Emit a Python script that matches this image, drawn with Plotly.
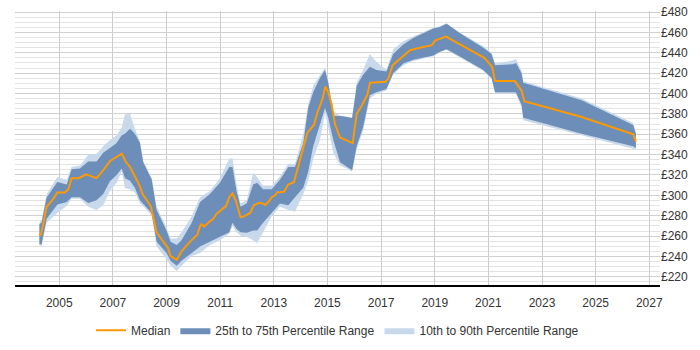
import plotly.graph_objects as go

# ---- Data (decimal years) ----
median_x = [2004.26, 2004.31, 2004.41, 2004.53, 2004.78, 2004.93, 2005.21, 2005.34, 2005.46, 2005.73,
            2006.0, 2006.39, 2006.58, 2006.89, 2007.08, 2007.33, 2007.49, 2007.64, 2007.82, 2007.98,
            2008.11, 2008.41, 2008.63, 2008.94, 2009.06, 2009.15, 2009.38, 2009.56, 2009.85, 2010.15,
            2010.25, 2010.31, 2010.4, 2010.56, 2010.74, 2010.87, 2011.22, 2011.34, 2011.46, 2011.59,
            2011.76, 2011.89, 2012.11, 2012.26, 2012.46, 2012.61, 2012.67, 2012.83, 2012.92, 2013.04,
            2013.13, 2013.38, 2013.54, 2013.75, 2014.04, 2014.25, 2014.5, 2014.62, 2014.82, 2014.92,
            2015.03, 2015.16, 2015.28, 2015.47, 2015.94, 2016.09, 2016.28, 2016.48, 2016.59, 2017.17,
            2017.27, 2017.43, 2017.71, 2018.08, 2018.45, 2018.9, 2019.01, 2019.42, 2020.85, 2021.14,
            2021.25, 2021.99, 2022.24, 2022.34, 2024.48, 2026.4, 2026.5]
median = [262.3, 260.7, 273, 288.8, 296.6, 302.9, 302.9, 306, 316.9, 316.9,
          320.7, 316.9, 322.5, 333.5, 336.9, 341, 332.6, 327.9, 318.5, 310.6,
          301.3, 289.5, 263.8, 252.9, 248.2, 240.4, 236.6, 245, 253.9, 261.3,
          270, 271.7, 269.4, 273.2, 276.9, 282, 289.5, 298.2, 301.9, 294.4,
          278.5, 279.4, 282.5, 290.4, 292.6, 291.9, 290.4, 294.4, 298.2, 299.8,
          302.9, 303.5, 310.6, 312.9, 341.9, 361.3, 369.4, 380.9, 395, 406.9,
          401.3, 388.8, 370, 356.9, 351.3, 380, 388.2, 398.2, 410.6, 411.6,
          414.4, 427.8, 434.1, 442.5, 445, 447.5, 451.9, 455.9, 435, 426.3,
          412.2, 412.2, 402.9, 392.5, 376.9, 360, 352.8]

band_x = [2004.26, 2004.34, 2004.53, 2004.93, 2005.28, 2005.46, 2005.77, 2006.08, 2006.39, 2006.64,
          2006.89, 2007.14, 2007.33, 2007.45, 2007.64, 2007.82, 2008.01, 2008.13, 2008.45, 2008.63,
          2009.0, 2009.15, 2009.38, 2009.56, 2009.94, 2010.25, 2010.62, 2010.99, 2011.34, 2011.46,
          2011.61, 2011.76, 2011.99, 2012.23, 2012.38, 2012.6, 2012.92, 2013.23, 2013.54, 2013.79,
          2014.1, 2014.28, 2014.47, 2014.72, 2014.91, 2015.03, 2015.22, 2015.47, 2015.72, 2015.92,
          2016.09, 2016.33, 2016.58, 2016.83, 2017.2, 2017.45, 2017.83, 2018.2, 2018.95, 2019.19,
          2019.44, 2019.94, 2020.81, 2021.12, 2021.25, 2021.93, 2022.03, 2022.24, 2022.3, 2024.48,
          2026.4, 2026.5]
p10 = [251, 250, 273, 283, 289.5, 296.6, 296.6, 288.8, 285.7, 290.4,
       304.4, 312.3, 323.1, 306.9, 306, 302.9, 291.9, 289.5, 279.4, 249.7,
       237.3, 231, 225.7, 231, 240.4, 243.5, 251.3, 256, 262.2, 270,
       263.8, 260.7, 259.1, 256, 252.9, 263.8, 279.4, 288.8, 285.7, 284,
       301.3, 313.8, 335.7, 354.4, 380.9, 366.9, 341.9, 329.4, 326.3, 323.1,
       345, 363.8, 395, 399.7, 402.9, 418.4, 427.8, 432, 436.5, 440.5,
       443, 435.5, 422, 414.5, 400.5, 400.5, 400, 386, 373.8, 359.1,
       345.7, 345]
p25 = [252, 252, 277, 291, 293.5, 298.2, 298.2, 292.6, 295.1, 301.3,
       313.8, 320, 326.3, 316.9, 314.4, 307.5, 295.1, 291.9, 282.5, 254.4,
       243.5, 235.7, 231, 235.7, 243.5, 249.7, 254.4, 259.1, 263.8, 273.2,
       267, 263.8, 263.2, 265.4, 265.4, 273.2, 282.5, 291.9, 290.4, 298.2,
       307.5, 323.1, 348.1, 370, 385.7, 376.3, 354.4, 332.6, 327.9, 324.7,
       348.1, 366.9, 398.2, 401.3, 404.4, 420, 429.4, 433.1, 437.2, 441,
       443.4, 436.3, 423.1, 415.3, 401.3, 401.3, 401, 388.8, 376.3, 360.6,
       348.1, 346.6]
p75 = [272, 273, 298, 313, 310.7, 325.7, 326.3, 333.2, 333.2, 341.9,
       346.6, 351.3, 359.1, 360.6, 365.4, 360.6, 351.3, 332.6, 315.3, 285.7,
       265.4, 254.4, 251.3, 256, 273.2, 293.5, 301.3, 312.3, 327.9, 327.9,
       304.4, 288.8, 291.9, 310.7, 312.3, 306, 306, 315.3, 327.9, 327.9,
       351.3, 385.7, 401.3, 415.3, 423.1, 410.6, 377.8, 377.8, 376.9, 376,
       407.5, 418.4, 426.3, 423.1, 421.6, 438.8, 448.1, 454.4, 463.8, 465.3,
       468.4, 459.1, 445, 438.8, 427.8, 428.7, 430, 420, 410.6, 393.5,
       369.1, 360.6]
p90 = [273, 276, 301, 318, 315.4, 327.9, 329.4, 339.8, 340.7, 348.1,
       354.4, 359.1, 366.9, 379.4, 380, 365.4, 352.8, 334.1, 316.9, 288.8,
       268.5, 257.6, 257.6, 263.8, 279.4, 298.2, 304.4, 316.9, 336.2, 336.2,
       310.7, 291.9, 295.1, 322, 318, 309.1, 309.1, 318.5, 331, 331,
       360.6, 388.8, 407.5, 418.4, 425.6, 412.2, 382.5, 378.5, 377.5, 376.5,
       410.6, 423.1, 438.8, 431, 423.1, 443.4, 451.2, 455.9, 464.5, 466,
       469, 460, 446.5, 440, 429.4, 432.5, 434.1, 422, 412, 395,
       371, 362]

year_ticks = list(range(2005, 2028, 2))
y_ticks = list(range(220, 481, 20))

fig = go.Figure()
fig.add_trace(go.Scatter(
    x=band_x + band_x[::-1], y=p90 + p10[::-1], fill='toself', mode='lines',
    line=dict(width=0), fillcolor='rgb(200,217,235)',
    name='10th to 90th Percentile Range', hoverinfo='skip'))
fig.add_trace(go.Scatter(
    x=band_x + band_x[::-1], y=p75 + p25[::-1], fill='toself', mode='lines',
    line=dict(width=0), fillcolor='rgb(108,142,184)',
    name='25th to 75th Percentile Range', hoverinfo='skip'))
fig.add_trace(go.Scatter(
    x=median_x, y=median, mode='lines', line=dict(color='#ff9900', width=2),
    name='Median'))

fig.update_layout(
    width=700, height=350,
    margin=dict(l=15, r=40, t=5, b=58),
    paper_bgcolor='white', plot_bgcolor='white',
    font=dict(family='Liberation Sans, Arial, sans-serif', size=12, color='#333'),
    legend=dict(orientation='h', x=0.5, xanchor='center', y=-0.112, yanchor='top',
                traceorder='reversed', font=dict(size=12, color='#333'),
                itemwidth=30),
    showlegend=True,
)
fig.update_xaxes(
    range=[2003.35, 2027.4], tickvals=year_ticks, ticktext=[str(y) for y in year_ticks],
    showgrid=True, gridcolor='#cccccc', gridwidth=1,
    showline=True, linecolor='#000000', linewidth=2, ticks='', zeroline=False,
    ticklabelstandoff=6,
)
fig.update_yaxes(
    range=[212, 481], side='right', tickvals=y_ticks, ticktext=['£%d' % v for v in y_ticks],
    showgrid=True, gridcolor='#d0d0d0', gridwidth=1, zeroline=False, showline=False,
    ticklabeloverflow='allow',
    minor=dict(dtick=5, tick0=220, showgrid=True, gridcolor='#e3e3e3', gridwidth=1),
)
fig.write_html("out.html")
